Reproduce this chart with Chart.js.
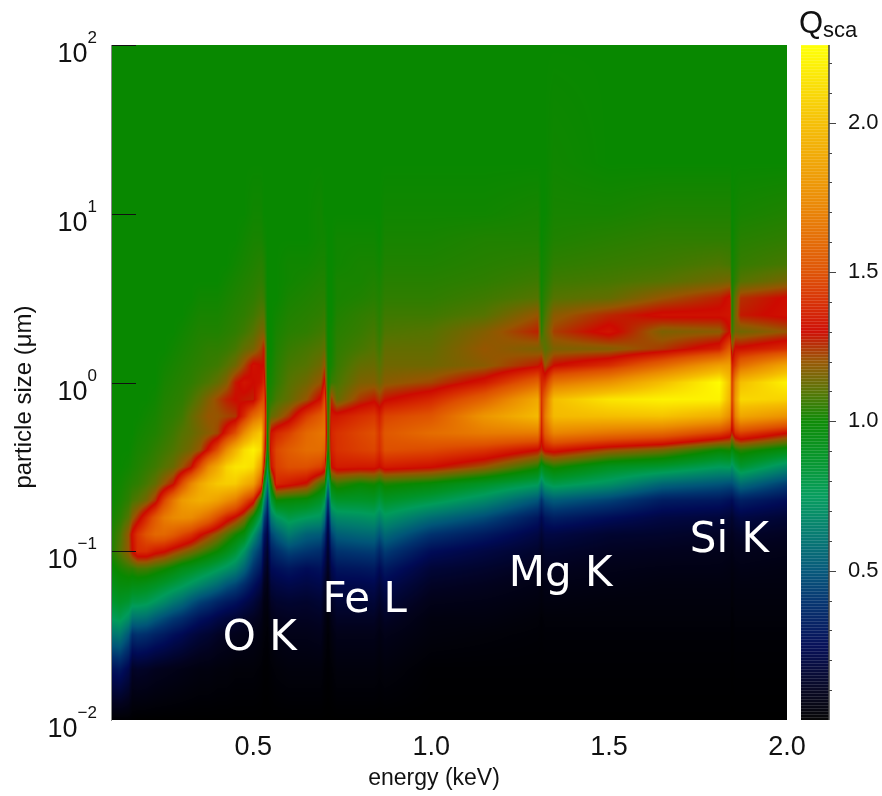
<!DOCTYPE html>
<html>
<head>
<meta charset="utf-8">
<style>
  body { margin: 0; background: #fff; }
  #wrap { position: relative; width: 882px; height: 796px; overflow: hidden; }
  #heatWrap { position: absolute; left: 0; top: 0; width: 882px; height: 796px; }
  #barWrap { position: absolute; left: 790px; top: 0; width: 92px; height: 796px; }
</style>
<script src="https://cdn.jsdelivr.net/npm/chart.js@4"></script>
</head>
<body>
<div id="wrap">
  <div id="heatWrap"><canvas id="heat"></canvas></div>
  <div id="barWrap"><canvas id="bar"></canvas></div>
</div>
<script>
const sizes = [0.01, 0.02, 0.032, 0.04, 0.05, 0.063, 0.079, 0.1, 0.126, 0.158, 0.2, 0.251, 0.316, 0.398, 0.501, 0.631, 0.794, 1, 1.26, 1.58, 2, 2.51, 3.16, 3.98, 5.01, 7.08, 10, 20, 100];
const energies = [0.1, 0.125, 0.15, 0.16, 0.175, 0.2, 0.225, 0.25, 0.275, 0.3, 0.325, 0.35, 0.375, 0.4, 0.425, 0.45, 0.475, 0.5, 0.522, 0.53, 0.54, 0.55, 0.565, 0.6, 0.65, 0.69, 0.7, 0.71, 0.72, 0.735, 0.8, 0.84, 0.855, 0.87, 1, 1.15, 1.3, 1.31, 1.32, 1.345, 1.5, 1.65, 1.81, 1.84, 1.845, 1.855, 1.87, 2];

// one row per energy, values run along sizes; a row stops once Q has settled at 1
const qByEnergy = [
  [.01,.28,.6,.75,.85,.92,.98,1.02,1.02,1.01],
  [.01,.3,.62,.78,.88,.96,1.02,1.1,1.08,1.04,1.02,1.01],
  [.01,.22,.5,.7,.85,.96,1.05,1.2,1.2,1.1,1.05,1.03,1.01],
  [.005,.12,.38,.6,.8,.94,1.05,1.3,1.32,1.18,1.08,1.04,1.02,1.01],
  [0,.13,.4,.6,.8,.94,1.08,1.4,1.42,1.25,1.1,1.05,1.03,1.02,1.01],
  [0,.12,.38,.58,.78,.92,1.08,1.4,1.52,1.39,1.15,1.08,1.05,1.03,1.02,1.01],
  [0,.1,.34,.52,.73,.89,1.05,1.34,1.6,1.54,1.25,1.12,1.07,1.05,1.03,1.02,1.01],
  [0,.09,.31,.47,.68,.85,1.02,1.31,1.6,1.68,1.47,1.2,1.1,1.07,1.05,1.04,1.03,1.02,1.01],
  [0,.08,.27,.42,.62,.81,.98,1.25,1.55,1.74,1.66,1.28,1.13,1.09,1.07,1.05,1.04,1.03,1.02,1.01],
  [0,.07,.24,.38,.57,.77,.93,1.2,1.48,1.76,1.82,1.5,1.2,1.12,1.1,1.07,1.05,1.04,1.03,1.02,1.01],
  [0,.06,.2,.33,.5,.72,.9,1.15,1.42,1.75,1.88,1.72,1.28,1.15,1.12,1.12,1.08,1.05,1.04,1.03,1.02,1.01],
  [0,.05,.17,.28,.44,.67,.86,1.1,1.32,1.68,1.92,1.88,1.5,1.2,1.15,1.16,1.12,1.07,1.05,1.04,1.03,1.02,1.01],
  [0,.05,.15,.25,.4,.62,.82,1.05,1.25,1.6,1.9,1.98,1.75,1.33,1.18,1.2,1.17,1.09,1.06,1.05,1.03,1.02,1.01],
  [0,.04,.12,.21,.35,.57,.77,1,1.18,1.48,1.85,2.04,1.9,1.5,1.22,1.2,1.22,1.12,1.07,1.05,1.03,1.02,1.01],
  [0,.04,.1,.18,.31,.5,.72,.93,1.1,1.36,1.76,2.06,2.08,1.75,1.36,1.22,1.27,1.17,1.1,1.06,1.04,1.03,1.02,1.01],
  [0,.03,.09,.16,.28,.45,.66,.85,1.02,1.28,1.68,2.05,2.15,1.95,1.5,1.24,1.3,1.28,1.14,1.08,1.05,1.04,1.03,1.02,1.01],
  [0,.03,.08,.13,.23,.37,.55,.72,.95,1.17,1.5,1.94,2.16,2.12,1.75,1.4,1.28,1.33,1.22,1.12,1.07,1.05,1.04,1.03,1.02,1.01],
  [0,.03,.07,.11,.18,.28,.4,.52,.73,.98,1.35,1.84,2.12,2.2,1.95,1.6,1.27,1.3,1.32,1.15,1.1,1.07,1.05,1.04,1.03,1.02,1.01],
  [0,.02,.05,.08,.12,.2,.3,.4,.52,.75,1,1.5,1.85,2.1,2.05,1.7,1.45,1.32,1.3,1.22,1.15,1.1,1.07,1.05,1.04,1.02,1.01],
  [0,.01,.03,.04,.06,.1,.16,.22,.3,.45,.7,.95,1.3,1.5,1.6,1.6,1.5,1.38,1.3,1.28,1.15,1.1,1.06,1.04,1.03,1.01],
  [0,.01,.02,.03,.05,.07,.1,.14,.2,.3,.42,.6,.8,.95,1,1.02,1.02],
  [0,.02,.05,.08,.12,.18,.25,.33,.45,.62,.82,1.02,1.32,1.36,1.32,1.12,1.04,1.02,1.01],
  [0,.03,.07,.1,.14,.2,.27,.38,.52,.72,1,1.38,1.45,1.47,1.38,1.15,1.08,1.05,1.04,1.03,1.02,1.01],
  [0,.04,.08,.11,.15,.22,.3,.45,.63,.8,.98,1.34,1.5,1.55,1.45,1.24,1.12,1.1,1.08,1.06,1.04,1.03,1.02,1.01,1.01],
  [0,.04,.08,.11,.14,.2,.26,.41,.54,.75,.96,1.28,1.5,1.62,1.6,1.44,1.2,1.14,1.1,1.08,1.05,1.04,1.03,1.02,1.01],
  [0,.04,.09,.12,.16,.22,.28,.38,.52,.72,.88,1.08,1.45,1.62,1.65,1.55,1.32,1.2,1.14,1.1,1.07,1.05,1.04,1.03,1.02,1.01,1.01],
  [0,.02,.05,.07,.1,.14,.2,.28,.4,.6,.8,1.05,1.38,1.58,1.66,1.6,1.48,1.32,1.2,1.12,1.08,1.06,1.04,1.03,1.02,1.01],
  [0,.01,.02,.03,.05,.07,.1,.13,.17,.24,.38,.62,.82,.98,1.02,1.02,1.01],
  [0,.02,.05,.08,.12,.17,.23,.32,.45,.62,.82,1,1.3,1.36,1.38,1.34,1.25,1.06,1.02,1.01,1.01],
  [0,.04,.08,.12,.16,.22,.29,.4,.53,.68,.87,1.06,1.35,1.41,1.41,1.34,1.12,1.08,1.06,1.05,1.04,1.03,1.02,1.02,1.01,1.01],
  [0,.04,.08,.12,.16,.22,.3,.42,.56,.7,.87,1,1.34,1.45,1.47,1.4,1.24,1.16,1.12,1.08,1.06,1.05,1.03,1.02,1.02,1.01],
  [0,.04,.08,.12,.17,.23,.31,.43,.57,.72,.88,1.02,1.34,1.47,1.5,1.43,1.28,1.17,1.13,1.1,1.08,1.06,1.04,1.03,1.02,1.01],
  [0,.03,.06,.09,.13,.18,.25,.36,.5,.66,.82,.98,1.3,1.4,1.42,1.36,1.24,1.14,1.1,1.07,1.05,1.04,1.03,1.02,1.01],
  [0,.04,.08,.12,.17,.23,.31,.43,.57,.72,.88,1.03,1.35,1.5,1.53,1.46,1.29,1.18,1.14,1.12,1.09,1.07,1.05,1.04,1.03,1.02,1.01],
  [0,.01,.04,.05,.08,.12,.17,.26,.4,.58,.8,.98,1.31,1.48,1.62,1.52,1.38,1.22,1.14,1.12,1.1,1.07,1.05,1.04,1.03,1.02,1.01],
  [0,.01,.03,.05,.07,.1,.14,.2,.31,.47,.68,.88,1.2,1.42,1.68,1.8,1.58,1.34,1.18,1.2,1.17,1.1,1.07,1.05,1.04,1.03,1.01],
  [0,.01,.02,.03,.05,.07,.1,.14,.2,.3,.5,.77,1.03,1.3,1.68,1.98,1.9,1.58,1.28,1.16,1.27,1.2,1.1,1.07,1.05,1.03,1.02],
  [0,.01,.015,.02,.04,.05,.08,.11,.16,.24,.4,.65,.92,1.25,1.35,1.4,1.42,1.38,1.32,1.15,1.05,1.03,1.02,1.01,1.01],
  [0,.01,.02,.03,.05,.07,.1,.14,.2,.3,.48,.75,.98,1.32,1.55,1.68,1.6,1.4,1.2,1.1,1.12,1.08,1.05,1.03,1.02,1.01],
  [0,.01,.02,.03,.05,.07,.1,.14,.2,.33,.52,.8,1.03,1.34,1.72,1.98,2,1.65,1.3,1.16,1.23,1.18,1.1,1.07,1.05,1.03,1.02,1.01],
  [0,.01,.02,.03,.04,.06,.08,.11,.15,.26,.44,.71,.9,1.22,1.65,2,2.15,1.78,1.4,1.17,1.33,1.26,1.12,1.08,1.06,1.04,1.02],
  [0,.01,.02,.03,.04,.05,.07,.1,.14,.2,.32,.56,.85,1.15,1.6,2.02,2.2,2,1.6,1.24,1.16,1.32,1.2,1.1,1.07,1.05,1.03],
  [0,.01,.02,.03,.04,.05,.07,.09,.12,.18,.3,.5,.75,1,1.45,1.92,2.2,2.24,1.85,1.36,1.18,1.32,1.27,1.14,1.09,1.05,1.03],
  [0,.01,.02,.03,.04,.05,.06,.08,.11,.16,.27,.48,.76,1.02,1.38,1.75,1.95,2,1.85,1.55,1.3,1.33,1.32,1.15,1.08,1.05,1.03],
  [0,.005,.01,.015,.025,.035,.05,.07,.1,.14,.25,.48,.7,.95,1.25,1.35,1.42,1.42,1.35,1.2,1.05,1.02,1.02,1.01,1.01],
  [0,.01,.02,.03,.04,.05,.06,.09,.12,.18,.3,.52,.78,1.02,1.4,1.7,1.82,1.75,1.45,1.32,1.15,1.15,1.12,1.05,1.03,1.02,1.01],
  [0,.01,.02,.03,.04,.05,.07,.09,.13,.2,.33,.58,.85,1.05,1.45,1.88,2.1,2,1.62,1.32,1.14,1.28,1.25,1.1,1.06,1.04,1.02],
  [0,.01,.02,.03,.04,.05,.06,.08,.11,.16,.26,.43,.68,.95,1.3,1.78,2.08,2.2,1.88,1.4,1.2,1.32,1.31,1.15,1.08,1.05,1.03]
];

const energyTicks = [0.5, 1, 1.5, 2];
const sizeTicks = [0.01, 0.1, 1, 10, 100];
const sizeExponents = ['\u22122', '\u22121', '0', '1', '2'];
const qTicks = [0.1, 0.2, 0.3, 0.4, 0.5, 0.6, 0.7, 0.8, 0.9, 1, 1.1, 1.2, 1.3, 1.4, 1.5, 1.6, 1.7, 1.8, 1.9, 2, 2.1, 2.2];

const edgeNames = ['O K', 'Fe L', 'Mg K', 'Si K'];
const edgeEnergies = [0.518, 0.813, 1.364, 1.838];
const edgeSizes = [0.026, 0.0437, 0.0622, 0.099];

// colour table
const cmapQ = [0, 0.1, 0.25, 0.4, 0.5, 0.62, 0.75, 0.87, 1, 1.1, 1.2, 1.3, 1.4, 1.5, 1.75, 2, 2.25];
const cmapR = [0, 2, 0, 0, 0, 0, 0, 0, 8, 85, 150, 205, 215, 222, 235, 245, 255];
const cmapG = [0, 2, 10, 50, 85, 120, 155, 148, 136, 115, 85, 10, 45, 80, 140, 190, 255];
const cmapB = [0, 30, 85, 110, 120, 110, 90, 40, 0, 0, 0, 0, 0, 0, 0, 0, 0];

function qAt(i, j) {
  const v = qByEnergy[i][j];
  return v === undefined ? 1 : v;
}

function qColor(q) {
  let i = 0;
  while (i < cmapQ.length - 2 && q > cmapQ[i + 1]) i++;
  const t = Math.min(1, Math.max(0, (q - cmapQ[i]) / (cmapQ[i + 1] - cmapQ[i])));
  return [
    cmapR[i] + t * (cmapR[i + 1] - cmapR[i]),
    cmapG[i] + t * (cmapG[i + 1] - cmapG[i]),
    cmapB[i] + t * (cmapB[i + 1] - cmapB[i])
  ];
}

// fills the plot area pixel by pixel, grid nodes placed by the chart's scales
const heatLayer = {
  id: 'heatLayer',
  beforeDatasetsDraw(chart) {
    const area = chart.chartArea;
    const xPx = energies.map(e => chart.scales.x.getPixelForValue(e));
    const yPx = sizes.map(s => chart.scales.y.getPixelForValue(s));
    const w = Math.round(area.right - area.left);
    const h = Math.round(area.bottom - area.top);
    const off = document.createElement('canvas');
    off.width = w;
    off.height = h;
    const octx = off.getContext('2d');
    const img = octx.createImageData(w, h);

    let row = sizes.length - 2;
    for (let py = 0; py < h; py++) {
      const yy = area.top + py + 0.5;
      while (row > 0 && yy > yPx[row]) row--;
      const ty = Math.min(1, Math.max(0, (yPx[row] - yy) / (yPx[row] - yPx[row + 1])));
      let col = 0;
      for (let px = 0; px < w; px++) {
        const xx = area.left + px + 0.5;
        while (col < energies.length - 2 && xx > xPx[col + 1]) col++;
        const tx = Math.min(1, Math.max(0, (xx - xPx[col]) / (xPx[col + 1] - xPx[col])));
        const a = qAt(col, row) * (1 - ty) + qAt(col, row + 1) * ty;
        const b = qAt(col + 1, row) * (1 - ty) + qAt(col + 1, row + 1) * ty;
        const c = qColor(a * (1 - tx) + b * tx);
        const k = (py * w + px) * 4;
        img.data[k] = c[0];
        img.data[k + 1] = c[1];
        img.data[k + 2] = c[2];
        img.data[k + 3] = 255;
      }
    }
    octx.putImageData(img, 0, 0);
    chart.ctx.drawImage(off, area.left, area.top);
  },
  afterDatasetsDraw(chart) {
    const ctx = chart.ctx;
    const yScale = chart.scales.y;
    const xScale = chart.scales.x;
    const left = chart.chartArea.left;

    ctx.save();
    ctx.strokeStyle = '#111';
    ctx.lineWidth = 1;
    ctx.fillStyle = '#111';
    ctx.textBaseline = 'alphabetic';
    sizeTicks.forEach((s, i) => {
      const y = Math.round(yScale.getPixelForValue(s));
      if (i > 0) {
        ctx.beginPath();
        ctx.moveTo(left, y + 0.5);
        ctx.lineTo(left + 25, y + 0.5);
        ctx.stroke();
      }
      ctx.font = '17px "Liberation Sans"';
      const expWidth = ctx.measureText(sizeExponents[i]).width;
      const right = 97;
      ctx.textAlign = 'left';
      ctx.fillText(sizeExponents[i], right - expWidth, y - 2);
      ctx.font = '27px "Liberation Sans"';
      ctx.textAlign = 'right';
      ctx.fillText('10', right - expWidth, y + 17);
    });

    // axis titles sit off-centre in the reference
    ctx.textAlign = 'center';
    ctx.textBaseline = 'middle';
    ctx.font = '23px "Liberation Sans"';
    ctx.fillText('energy (keV)', 434, 779);
    ctx.save();
    ctx.translate(24, 397);
    ctx.rotate(-Math.PI / 2);
    ctx.font = '24px "Liberation Sans"';
    ctx.fillText('particle size (\u03bcm)', 0, 0);
    ctx.restore();

    ctx.textBaseline = 'alphabetic';
    ctx.fillStyle = '#fff';
    ctx.font = '42px "DejaVu Sans"';
    edgeNames.forEach((name, i) => {
      ctx.fillText(name, xScale.getPixelForValue(edgeEnergies[i]), yScale.getPixelForValue(edgeSizes[i]));
    });
    ctx.restore();
  }
};

const gridPoints = [];
energies.forEach((e, i) => {
  sizes.forEach((s, j) => gridPoints.push({ x: e, y: s, q: qAt(i, j) }));
});

new Chart(document.getElementById('heat'), {
  type: 'scatter',
  data: {
    datasets: [{ label: 'Qsca', data: gridPoints, pointRadius: 0, pointHoverRadius: 0 }]
  },
  options: {
    responsive: true,
    maintainAspectRatio: false,
    animation: false,
    layout: { padding: { top: 45, right: 95, left: 0, bottom: 0 } },
    plugins: { legend: { display: false }, tooltip: { enabled: false } },
    scales: {
      x: {
        type: 'linear',
        min: 0.1,
        max: 2,
        afterBuildTicks: scale => { scale.ticks = energyTicks.map(v => ({ value: v })); },
        afterFit: scale => { scale.height = 76; scale.paddingRight = 0; scale.paddingLeft = 0; },
        grid: { display: false, drawTicks: false },
        border: { display: false },
        ticks: {
          color: '#111',
          padding: 11,
          maxRotation: 0,
          font: { family: '"Liberation Sans"', size: 27 },
          callback: v => v.toFixed(1)
        }
      },
      y: {
        type: 'logarithmic',
        min: 0.01,
        max: 100,
        afterBuildTicks: scale => { scale.ticks = sizeTicks.map(v => ({ value: v })); },
        afterFit: scale => { scale.width = 111; },
        grid: { display: false, drawTicks: false },
        border: { display: true, color: '#888', z: 2 },
        ticks: { display: false }
      }
    }
  },
  plugins: [heatLayer]
});

// colour bar: its own small chart with a linear Q axis
const barLayer = {
  id: 'barLayer',
  beforeDatasetsDraw(chart) {
    const ctx = chart.ctx;
    const area = chart.chartArea;
    const q = chart.scales.y;
    for (let py = Math.round(area.top); py < Math.round(area.bottom); py++) {
      const c = qColor(q.getValueForPixel(py + 0.5));
      const lift = py % 3 === 0 ? 0.16 : 0.03;
      const mix = v => Math.round(v + (255 - v) * lift);
      ctx.fillStyle = `rgb(${mix(c[0])},${mix(c[1])},${mix(c[2])})`;
      ctx.fillRect(area.left, py, area.right - area.left, 1);
    }
  },
  afterDatasetsDraw(chart) {
    const ctx = chart.ctx;
    const area = chart.chartArea;
    const q = chart.scales.y;
    ctx.save();
    ctx.strokeStyle = '#444';
    ctx.lineWidth = 1.5;
    ctx.beginPath();
    ctx.moveTo(area.right, area.top);
    ctx.lineTo(area.right, area.bottom);
    ctx.stroke();
    qTicks.forEach(v => {
      const y = Math.round(q.getPixelForValue(v)) + 0.5;
      const major = Math.abs(v * 2 - Math.round(v * 2)) < 1e-6;
      ctx.lineWidth = 1;
      ctx.beginPath();
      ctx.moveTo(area.right, y);
      ctx.lineTo(area.right + (major ? 7 : 3), y);
      ctx.stroke();
    });
    ctx.fillStyle = '#111';
    ctx.textAlign = 'left';
    ctx.font = '31px "Liberation Sans"';
    ctx.fillText('Q', 9, 33);
    ctx.font = '22px "Liberation Sans"';
    ctx.fillText('sca', 33, 37);
    ctx.restore();
  }
};

new Chart(document.getElementById('bar'), {
  type: 'bar',
  data: { labels: ['Qsca'], datasets: [{ data: [[0, 2.26]], backgroundColor: 'rgba(0,0,0,0)' }] },
  options: {
    responsive: true,
    maintainAspectRatio: false,
    animation: false,
    layout: { padding: { top: 45, bottom: 76, left: 11, right: 0 } },
    plugins: { legend: { display: false }, tooltip: { enabled: false } },
    scales: {
      x: { display: false },
      y: {
        type: 'linear',
        position: 'right',
        min: 0,
        max: 2.26,
        afterBuildTicks: scale => { scale.ticks = qTicks.map(v => ({ value: v })); },
        afterFit: scale => { scale.width = 53; },
        grid: { display: false, drawTicks: false },
        border: { display: false },
        ticks: {
          color: '#111',
          padding: 19,
          autoSkip: false,
          font: { family: '"Liberation Sans"', size: 22 },
          callback: v => (Math.abs(v * 2 - Math.round(v * 2)) < 1e-6 ? v.toFixed(1) : '')
        }
      }
    }
  },
  plugins: [barLayer]
});
</script>
</body>
</html>
